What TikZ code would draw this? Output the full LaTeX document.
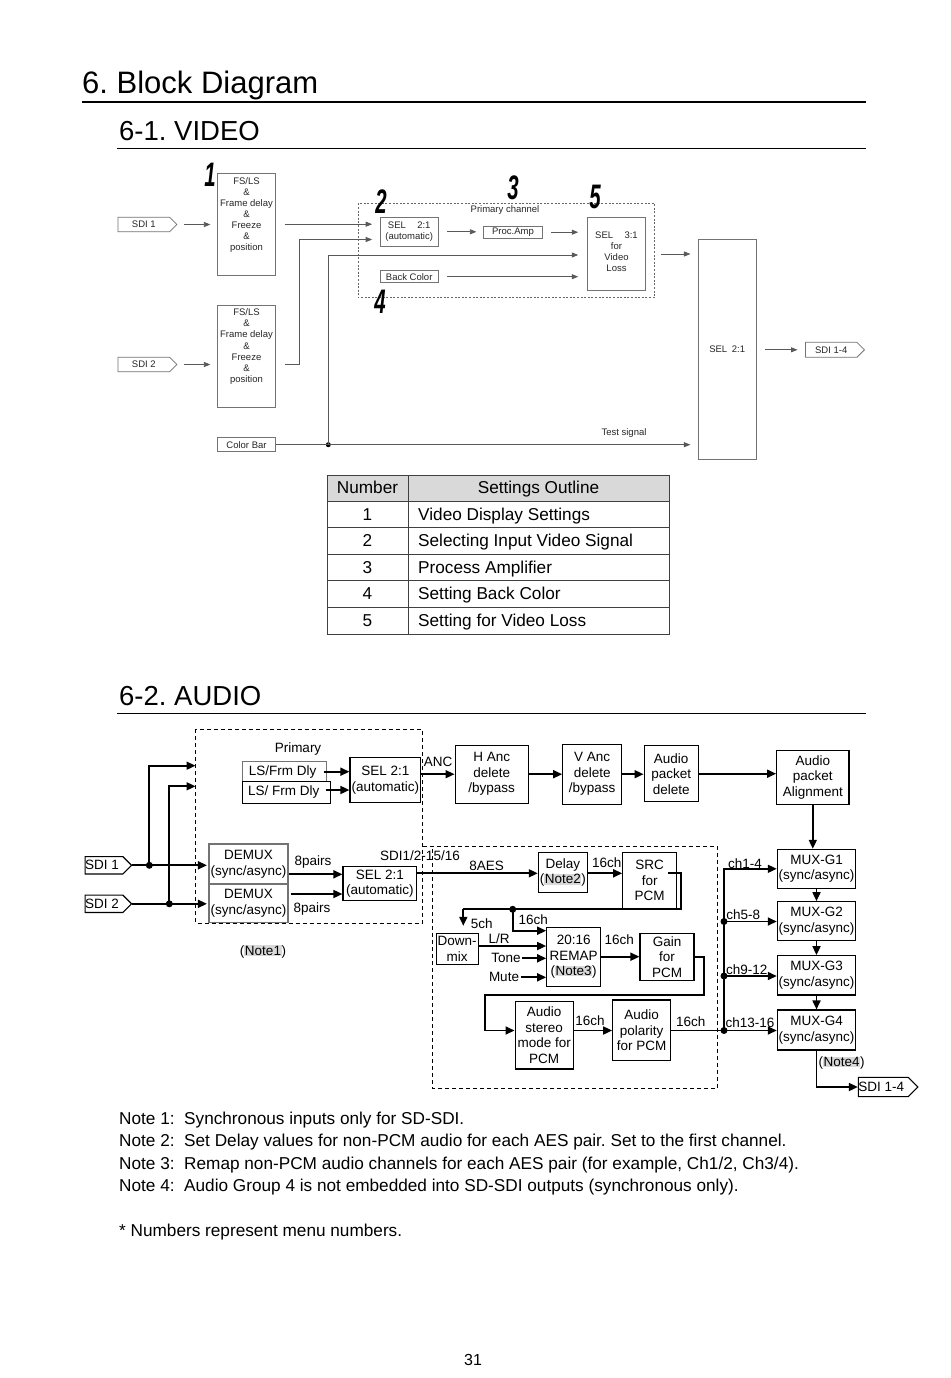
\documentclass[tikz,border=0pt]{standalone}
\usepackage{fontspec}
\setmainfont{Liberation Sans}
\usepackage{graphicx}
\usetikzlibrary{arrows.meta,shapes.symbols}
\frenchspacing
\newcommand{\hlt}[1]{{\setlength{\fboxsep}{0.5pt}\colorbox{black!15}{#1}}}
\newcommand{\vfnt}{\fontsize{9.5}{11.1}\selectfont}
\newcommand{\afnt}{\fontsize{13.5}{15.5}\selectfont}
\newcommand{\tfnt}{\fontsize{17.2}{20}\selectfont}
\newcommand{\bnum}[1]{\scalebox{0.6}[1]{\fontsize{34}{34}\selectfont\bfseries\itshape #1}}
\begin{document}
\begin{tikzpicture}[x=1pt,y=-1pt,
  vbox/.style={draw=black!55,line width=0.8pt,inner sep=0pt,align=center,font=\vfnt,text=black!85},
  vline/.style={draw=black!65,line width=0.8pt},
  varr/.style={vline,-{Triangle[length=6.5pt,width=5pt]}},
  vtag/.style={vbox,signal,signal to=east,signal pointer angle=90,minimum height=14.5pt},
  vlbl/.style={inner sep=0pt,font=\vfnt,text=black!85},
  abox/.style={draw,line width=1.1pt,inner sep=0pt,align=center,font=\afnt},
  aline/.style={line width=1.7pt},
  aarr/.style={aline,-{Triangle[length=9pt,width=8pt]}},
  atag/.style={abox,signal,signal to=east,signal pointer angle=90,minimum height=17.3pt},
  lbl/.style={inner sep=0pt,font=\afnt},
  jdot/.style={circle,fill=black,inner sep=0pt,minimum size=7pt},
  tbl/.style={inner sep=0pt,font=\tfnt,anchor=base},
  adash/.style={line width=1pt,dash pattern=on 4pt off 3pt},
]
\fill[white] (0,0) rectangle (950,1378);
\useasboundingbox (0,0) rectangle (950,1378);

% ---------- titles
\node[anchor=base west,inner sep=0pt,font=\fontsize{31}{31}\selectfont] (t1) at (82,93.5) {6. Block Diagram};
\draw[line width=1.8pt] (82,102.3) -- (866,102.3);
\node[anchor=base west,inner sep=0pt,font=\fontsize{27.5}{27.5}\selectfont] (t2) at (119,140.5) {6-1. VIDEO};
\draw[line width=1.3pt] (117,148.5) -- (866,148.5);
\node[anchor=base west,inner sep=0pt,font=\fontsize{27.5}{27.5}\selectfont] (t3) at (119,705.5) {6-2. AUDIO};
\draw[line width=1.3pt] (117,713.5) -- (866,713.5);

% ---------- VIDEO
\node[vtag,minimum width=59pt] (vsdi1) at (143.8,224.5) {SDI 1};
\node[vtag,minimum width=59pt] (vsdi2) at (143.8,364.5) {SDI 2};
\node[vbox,minimum width=58.4pt,minimum height=101.7pt] (fs1) at (246.5,224.2) {};
\node[vlbl,align=center,anchor=north] (fs1t) at (246.5,177) {FS/LS\\\&\\Frame delay\\\&\\Freeze\\\&\\position};
\node[vbox,minimum width=58.4pt,minimum height=101.6pt] (fs2) at (246.5,356.5) {};
\node[vlbl,align=center,anchor=north] (fs2t) at (246.5,308.7) {FS/LS\\\&\\Frame delay\\\&\\Freeze\\\&\\position};
\node[vbox,minimum width=58.4pt,minimum height=14pt] (cbar) at (246.5,444.7) {Color Bar};

\draw[black!60,line width=0.8pt,dash pattern=on 2pt off 1.6pt] (358.3,203.3) rectangle (654.5,297.8);
\node[vlbl] (prim) at (505,209.8) {Primary channel};
\node[vbox,minimum width=58.3pt,minimum height=28.3pt] (sel21) at (409.2,231.8) {SEL\hspace{1.2em}2:1\\(automatic)};
\node[vbox,minimum width=59.4pt,minimum height=12.3pt] (proc) at (513,232.2) {Proc.Amp};
\node[vbox,minimum width=58.3pt,minimum height=12pt] (back) at (409.2,276.7) {Back Color};
\node[vbox,minimum width=58.7pt,minimum height=72.3pt] (sel31) at (616.5,254) {};
\node[vlbl,align=center,anchor=north] (sel31t) at (616.5,231.5) {SEL\hspace{1.2em}3:1\\for\\Video\\Loss};
\node[vbox,minimum width=57.7pt,minimum height=219.7pt] (bigsel) at (727.2,349.2) {SEL\hspace{0.5em}2:1};
\node[vtag,minimum width=59pt,minimum height=15pt] (vsdio) at (831.2,349.8) {SDI 1-4};

\draw[varr,shorten <=6.7pt,shorten >=6.5pt] (vsdi1.east) -- (vsdi1.east -| fs1.west);
\draw[varr,shorten <=6.7pt,shorten >=6.5pt] (vsdi2.east) -- (vsdi2.east -| fs2.west);
\draw[varr,shorten <=8.5pt,shorten >=7.5pt] (fs1.east) -- (fs1.east -| sel21.west);
\coordinate (j2) at (299,239.5);
\path (fs2.east |- vsdi2.east) coordinate (f2o);
\draw[varr,shorten <=8.5pt,shorten >=7.5pt] (f2o) -| (j2) -- (j2 -| sel21.west);
\draw[varr,shorten <=8.5pt,shorten >=6.5pt] (sel21.east) -- (sel21.east -| proc.west);
\draw[varr,shorten <=8pt,shorten >=8.5pt] (proc.east) -- (proc.east -| sel31.west);
\draw[varr,shorten <=8.5pt,shorten >=8.5pt] (back.east) -- (back.east -| sel31.west);
\node[jdot,minimum size=5pt] (cbd) at (328.3,444.7) {};
\coordinate (y255) at (0,255);
\draw[varr,shorten >=8.5pt] (cbd.center) |- (sel31.west |- y255);
\draw[varr,shorten >=7.5pt] (cbar.east) -- (cbar.east -| bigsel.west);
\node[vlbl] (tsig) at (624,433) {Test signal};
\draw[varr,shorten <=15pt,shorten >=7.5pt] (sel31.east) -- (sel31.east -| bigsel.west);
\draw[varr,shorten <=8.3pt,shorten >=7.5pt] (bigsel.east |- vsdio.west) -- (vsdio.west);

\node[inner sep=0pt] (n1) at (210,175) {\bnum{1}};
\node[inner sep=0pt] (n2) at (381,202) {\bnum{2}};
\node[inner sep=0pt] (n3) at (513,187.5) {\bnum{3}};
\node[inner sep=0pt] (n4) at (380,302) {\bnum{4}};
\node[inner sep=0pt] (n5) at (595,197) {\bnum{5}};

% ---------- TABLE
\fill[black!15] (327,475) rectangle (669,501);
\draw[black!75,line width=1pt] (327,475) rectangle (669,634);
\foreach \yy in {501,527.5,554,580.5,607} {\draw[black!75,line width=1pt] (327,\yy) -- (669,\yy);}
\draw[black!75,line width=1pt] (408,475) -- (408,634);
\node[tbl] (h1) at (367.5,493.7) {Number};
\node[tbl] (h2) at (538.5,493.7) {Settings Outline};
\node[tbl] (r1n) at (367.5,520.4) {1};
\node[tbl] (r2n) at (367.5,546.9) {2};
\node[tbl] (r3n) at (367.5,573.4) {3};
\node[tbl] (r4n) at (367.5,599.9) {4};
\node[tbl] (r5n) at (367.5,626.7) {5};
\node[tbl,anchor=base west] (r1t) at (418,520.4) {Video Display Settings};
\node[tbl,anchor=base west] (r2t) at (418,546.9) {Selecting Input Video Signal};
\node[tbl,anchor=base west] (r3t) at (418,573.4) {Process Amplifier};
\node[tbl,anchor=base west] (r4t) at (418,599.9) {Setting Back Color};
\node[tbl,anchor=base west] (r5t) at (418,626.7) {Setting for Video Loss};

% ---------- AUDIO
\draw[adash] (195.7,729) rectangle (422.3,923);
\draw[adash] (423,846) -- (717.5,846) -- (717.5,1088) -- (432.5,1088) -- (432.5,846);

\node[lbl] (aprim) at (298,749) {Primary};
\node[abox,draw=black!55,minimum width=84pt,minimum height=20pt] (lsf1) at (284.7,771.7) {LS/Frm Dly\hspace{4pt}};
\node[abox,minimum width=88pt,minimum height=21.6pt] (lsf2) at (286.7,792.5) {LS/ Frm Dly\hspace{6pt}};
\node[abox,minimum width=70.7pt,minimum height=45.4pt] (selA) at (385.3,780) {SEL 2:1\\(automatic)};
\coordinate (yl1) at (0,771.7);
\coordinate (yl2) at (0,790);
\draw[aarr] ([xshift=-3.7pt]lsf1.east |- yl1) -- (selA.west |- yl1);
\draw[aarr] ([xshift=-5.7pt]lsf2.east |- yl2) -- (selA.west |- yl2);

\node[abox,minimum width=73.3pt,minimum height=58.3pt] (hanc) at (491.7,774.2) {H Anc\\delete\\/bypass};
\node[abox,minimum width=59pt,minimum height=60.3pt] (vanc) at (592.2,774.2) {V Anc\\delete\\/bypass};
\node[abox,minimum width=54.3pt,minimum height=56pt] (apd) at (671.2,773.7) {Audio\\packet\\delete};
\node[abox,minimum width=72.3pt,minimum height=53.6pt] (apa) at (812.8,777.5) {Audio\\packet\\Alignment};
\draw[aarr] (selA.east |- hanc.west) -- (hanc.west);
\node[lbl] (anc) at (438,761.7) {ANC};
\draw[aarr] (hanc.east) -- (hanc.east -| vanc.west);
\draw[aarr] (vanc.east) -- (vanc.east -| apd.west);
\draw[aarr] (apd.east) -- (apd.east -| apa.west);

\node[atag,minimum width=42pt] (asdi1) at (104,865.3) {SDI 1\hspace{4pt}};
\node[atag,minimum width=42pt] (asdi2) at (104,903.8) {SDI 2\hspace{4pt}};
\node[abox,draw=black!55,minimum width=79pt,minimum height=40pt] (dmx1) at (248.5,864) {DEMUX\\(sync/async)};
\node[abox,draw=black!55,minimum width=79pt,minimum height=38.7pt] (dmx2) at (248.5,903.3) {DEMUX\\(sync/async)};
\node[jdot] (d1) at (149.3,865.3) {};
\node[jdot] (d2) at (169.3,903.8) {};
\coordinate (inA1) at (195.5,765.7);
\coordinate (inA2) at (195.5,786.3);
\draw[aarr,shorten >=1.5pt] (asdi1.east) -- (asdi1.east -| dmx1.west);
\draw[aarr,shorten >=1.5pt] (asdi2.east) -- (asdi2.east -| dmx2.west);
\draw[aarr] (d1.center) |- (inA1);
\draw[aarr] (d2.center) |- (inA2);

\node[abox,minimum width=73.7pt,minimum height=34pt] (selB) at (379.8,883.7) {SEL 2:1\\(automatic)};
\coordinate (yA) at (0,874.3);
\coordinate (yB) at (0,894);
\draw[aarr] (dmx1.east |- yA) -- (selB.west |- yA);
\draw[aarr] ([xshift=2pt]dmx2.east |- yB) -- (selB.west |- yB);
\node[lbl] (p8a) at (313,861.7) {8pairs};
\node[lbl] (p8b) at (312,909) {8pairs};
\node[lbl] (n1lbl) at (263,951.7) {(\hlt{Note1})};
\node[lbl] (sdil) at (420,856) {SDI1/2-15/16};

\node[abox,minimum width=49pt,minimum height=40pt] (delay) at (562.8,872.7) {Delay\\(\hlt{Note2})};
\node[abox,minimum width=54pt,minimum height=55.6pt] (src) at (649.7,880.5) {SRC\\for\\PCM};
\coordinate (yC) at (0,873.3);
\draw[aarr] (selB.east |- yC) -- (delay.west |- yC);
\node[lbl] (aes) at (486.7,866) {8AES};
\draw[aarr] (delay.east |- yC) -- (src.west |- yC);
\node[lbl] (c16a) at (606.7,862.7) {16ch};

\node[abox,minimum width=42.3pt,minimum height=30.7pt] (dmix) at (457.2,948.7) {Down-\\mix};
\node[abox,minimum width=54pt,minimum height=58.7pt] (remap) at (573.7,956.7) {20:16\\REMAP\\(\hlt{Note3})};
\node[abox,minimum width=54pt,minimum height=46.7pt] (gain) at (667,956.7) {Gain\\for\\PCM};
\coordinate (srco) at (668.3,873.3);
\coordinate (c1) at (680.7,909.3);
\coordinate (c2) at (463.3,909.3);
\draw[aline] (srco) -| (c1) -- (c2);
\draw[aarr,shorten >=7pt] (c2) -- (c2 |- dmix.north);
\node[lbl] (c5) at (481.7,924) {5ch};
\node[jdot] (d3) at (512.7,909.3) {};
\coordinate (y930) at (0,930.7);
\draw[aarr] (d3.center) |- (remap.west |- y930);
\node[lbl] (c16b) at (533.3,920) {16ch};
\coordinate (yLR) at (0,946);
\draw[aarr] (dmix.east |- yLR) -- (remap.west |- yLR);
\node[lbl] (lr) at (499,939) {L/R};
\node[lbl] (tone) at (506,958.3) {Tone};
\node[lbl] (mute) at (504,977.3) {Mute};
\draw[aarr,shorten <=1.5pt] (tone.east) -- (tone.east -| remap.west);
\draw[aarr,shorten <=1.5pt] (mute.east) -- (mute.east -| remap.west);
\draw[aarr] (remap.east) -- (remap.east -| gain.west);
\node[lbl] (c16c) at (619.3,940) {16ch};

\node[abox,minimum width=58.3pt,minimum height=67.3pt] (stereo) at (544.2,1035.3) {Audio\\stereo\\mode for\\PCM};
\node[abox,minimum width=58pt,minimum height=60.7pt] (polar) at (641.7,1030.3) {Audio\\polarity\\for PCM};
\coordinate (c3) at (704,995);
\coordinate (c4) at (485,995);
\coordinate (y1030) at (0,1030.5);
\draw[aarr] (gain.east) -| (c3) -- (c4) |- (stereo.west |- y1030);
\draw[aarr] (stereo.east |- y1030) -- (polar.west |- y1030);
\node[lbl] (c16d) at (590,1021) {16ch};

\node[abox,minimum width=78.4pt,minimum height=39pt] (mux1) at (816.5,868.8) {MUX-G1\\(sync/async)};
\node[abox,minimum width=78.4pt,minimum height=39pt] (mux2) at (816.5,921.2) {MUX-G2\\(sync/async)};
\node[abox,minimum width=78.4pt,minimum height=39.3pt] (mux3) at (816.5,975.3) {MUX-G3\\(sync/async)};
\node[abox,minimum width=78.4pt,minimum height=40pt] (mux4) at (816.5,1030) {MUX-G4\\(sync/async)};
\node[jdot] (bd2) at (724,921.5) {};
\node[jdot] (bd3) at (724,976) {};
\node[jdot] (bd4) at (724,1030.5) {};
\draw[aarr] (polar.east |- bd4) -- (bd4 -| mux4.west);
\node[lbl] (c16e) at (690.7,1021.7) {16ch};
\draw[aline] (bd4.center) -- (bd2.center);
\draw[aarr] (bd2.center) |- (mux1.west);
\draw[aarr] (bd2.center) -- (bd2.center -| mux2.west);
\draw[aarr] (bd3.center) -- (bd3.center -| mux3.west);
\node[lbl] (ch1) at (745,863.3) {ch1-4};
\node[lbl] (ch5) at (743.3,915) {ch5-8};
\node[lbl] (ch9) at (746.7,970) {ch9-12};
\node[lbl] (ch13) at (750,1022.7) {ch13-16};
\draw[aarr] (apa.south) -- (apa.south |- mux1.north);
\draw[aarr] (mux1.south) -- (mux2.north);
\draw[aarr] (mux2.south) -- (mux3.north);
\draw[aarr] (mux3.south) -- (mux4.north);
\node[atag,minimum width=56.7pt,minimum height=19.3pt] (asdio) at (883.3,1087) {SDI 1-4\hspace{4pt}};
\draw[aarr] (mux4.south) |- (asdio.west);
\node[lbl] (n4lbl) at (841.7,1063.3) {(\hlt{Note4})};

% ---------- NOTES
\node[anchor=base west,inner sep=0pt,font=\tfnt] (nt1) at (119,1124) {Note 1:\ \ Synchronous inputs only for SD-SDI.};
\node[anchor=base west,inner sep=0pt,font=\tfnt] (nt2) at (119,1146) {Note 2:\ \ Set Delay values for non-PCM audio for each AES pair. Set to the first channel.};
\node[anchor=base west,inner sep=0pt,font=\tfnt] (nt3) at (119,1169) {Note 3:\ \ Remap non-PCM audio channels for each AES pair (for example, Ch1/2, Ch3/4).};
\node[anchor=base west,inner sep=0pt,font=\tfnt] (nt4) at (119,1191) {Note 4:\ \ Audio Group 4 is not embedded into SD-SDI outputs (synchronous only).};
\node[anchor=base west,inner sep=0pt,font=\tfnt] (nt5) at (119,1236) {* Numbers represent menu numbers.};
\node[inner sep=0pt,font=\fontsize{16}{16}\selectfont] (pg) at (473,1360) {31};
\end{tikzpicture}
\end{document}
